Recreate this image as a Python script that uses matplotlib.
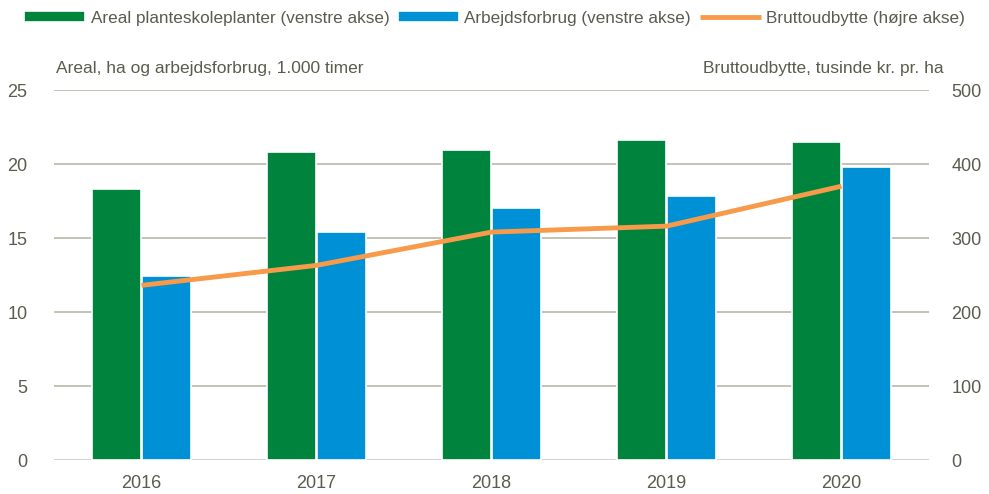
import matplotlib
matplotlib.use("Agg")
import matplotlib.pyplot as plt
import numpy as np

years = ["2016", "2017", "2018", "2019", "2020"]
areal = [18.3, 20.8, 20.95, 21.65, 21.5]
arbejd = [12.45, 15.4, 17.05, 17.85, 19.8]
brutto = [236, 263, 308, 316, 370]

plt.rcParams['font.family'] = ['Liberation Sans', 'DejaVu Sans']
txt = "#5b5b4e"
green = "#00843d"
blue = "#0090d6"
orange = "#f79a4a"
grid = "#b9b9a6"
fs = 12.5

fig = plt.figure(figsize=(9.89, 4.94), dpi=100)
ax = fig.add_axes([54/989, 34/494, (929-54)/989, (460-90)/494])
x = np.arange(len(years))
w = 0.28
ax.bar(x - w/2 - 0.005, areal, w, color=green, edgecolor="white", linewidth=1.2, zorder=3, label="Areal planteskoleplanter (venstre akse)")
ax.bar(x + w/2 + 0.005, arbejd, w, color=blue, edgecolor="white", linewidth=1.2, zorder=3, label="Arbejdsforbrug (venstre akse)")
ax.set_xlim(-0.5, 4.5)
ax.set_ylim(0, 25)
ax.set_yticks([0, 5, 10, 15, 20, 25])
for v in [5, 10, 15, 20, 25]:
    ax.axhline(v, color=grid, lw=1.2, zorder=1)
ax.axhline(0, color="#d4d4cc", lw=1.5, zorder=1)
for s in ax.spines.values():
    s.set_visible(False)
ax.set_xticks(x)
ax.set_xticklabels(years)
ax.tick_params(axis='both', length=0, labelsize=13, colors=txt)
ax.tick_params(axis='x', pad=11)
ax.tick_params(axis='y', pad=19)

ax2 = ax.twinx()
ax2.plot(x, brutto, color=orange, lw=3.5, zorder=4, solid_capstyle='butt', label="Bruttoudbytte (højre akse)")
ax2.set_ylim(0, 500)
ax2.set_yticks([0, 100, 200, 300, 400, 500])
for s in ax2.spines.values():
    s.set_visible(False)
ax2.tick_params(axis='y', length=0, labelsize=13, colors=txt, pad=16)

fig.text(56/989, 1 - 68/494, "Areal, ha og arbejdsforbrug, 1.000 timer", fontsize=fs, color=txt, va='center', ha='left')
fig.text(944/989, 1 - 68/494, "Bruttoudbytte, tusinde kr. pr. ha", fontsize=fs, color=txt, va='center', ha='right')

h1, l1 = ax.get_legend_handles_labels()
h2, l2 = ax2.get_legend_handles_labels()
fig.legend(h1 + h2, l1 + l2, loc='center', bbox_to_anchor=(0.5, 1 - 18/494), ncol=3, frameon=False,
           fontsize=12.3, labelcolor=txt, handlelength=3.6, handleheight=0.6, handletextpad=0.3, columnspacing=0.5)

fig.savefig("out.png", dpi=100)
